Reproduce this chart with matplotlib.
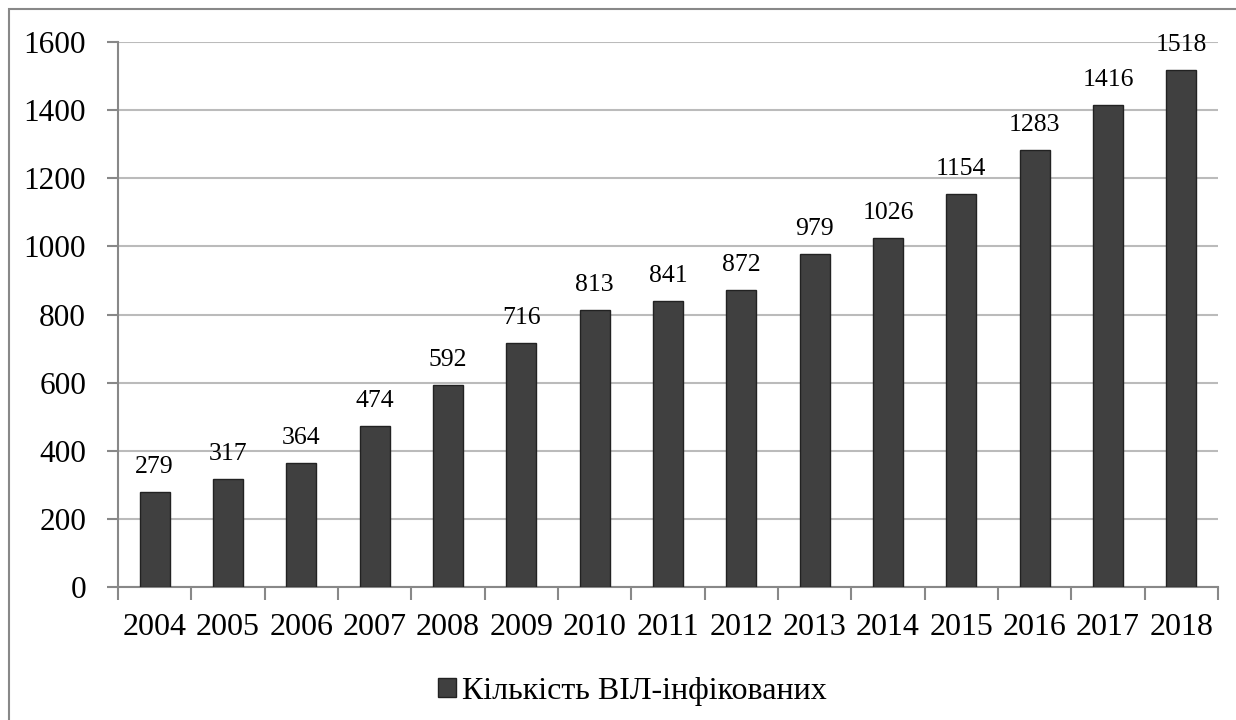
import matplotlib.pyplot as plt
from matplotlib.patches import Rectangle

years = ["2004", "2005", "2006", "2007", "2008", "2009", "2010", "2011",
         "2012", "2013", "2014", "2015", "2016", "2017", "2018"]
infected = [279, 317, 364, 474, 592, 716, 813, 841, 872, 979, 1026, 1154, 1283, 1416, 1518]
series_name = "Кількість ВІЛ-інфікованих"

plt.rcParams["font.family"] = ["Liberation Serif", "DejaVu Serif"]

W, H = 1236, 720
fig = plt.figure(figsize=(W / 100, H / 100), dpi=100)
ax = fig.add_axes([118 / W, 1 - 587 / H, (1218 - 118) / W, (587 - 42) / H])

x = range(len(years))
bars = ax.bar(x, infected, width=0.41, color="#404040", edgecolor="#222222",
              linewidth=1, label=series_name, zorder=3)
ax.bar_label(bars, labels=[str(v) for v in infected], padding=10, fontsize=18.5)

ax.set_xlim(-0.5, len(years) - 0.5)
ax.set_ylim(0, 1600)
ax.set_yticks(range(0, 1601, 200))
ax.tick_params(axis="y", labelsize=22.5, length=8, color="#888888", width=1.5, pad=15)
ax.yaxis.grid(True, color="#bbbbbb", linewidth=1.5, zorder=0)

ax.set_xticks([i - 0.5 for i in range(len(years) + 1)], minor=False)
ax.set_xticklabels([])
ax.set_xticks(list(x), minor=True)
ax.set_xticklabels(years, minor=True)
ax.tick_params(axis="x", which="major", length=9, color="#888888", width=1.5)
ax.tick_params(axis="x", which="minor", length=0, labelsize=23, pad=19)

for side in ["top", "right"]:
    ax.spines[side].set_visible(False)
for side in ["left", "bottom"]:
    ax.spines[side].set_color("#888888")
    ax.spines[side].set_linewidth(1.5)

fig.legend(handles=[bars], labels=[series_name], loc="center",
           bbox_to_anchor=(0.512, 1 - 691 / H), frameon=False, fontsize=23,
           handlelength=0.55, handleheight=0.55, handletextpad=0.2)

# chart-area border, cut off at the right and bottom edges of the image
fig.patches.append(Rectangle((9 / W, -10 / H), (1250 - 9) / W, (720 - 9 + 10) / H,
                             transform=fig.transFigure, fill=False,
                             edgecolor="#888888", linewidth=1.5))

fig.savefig("out.png", dpi=100)
